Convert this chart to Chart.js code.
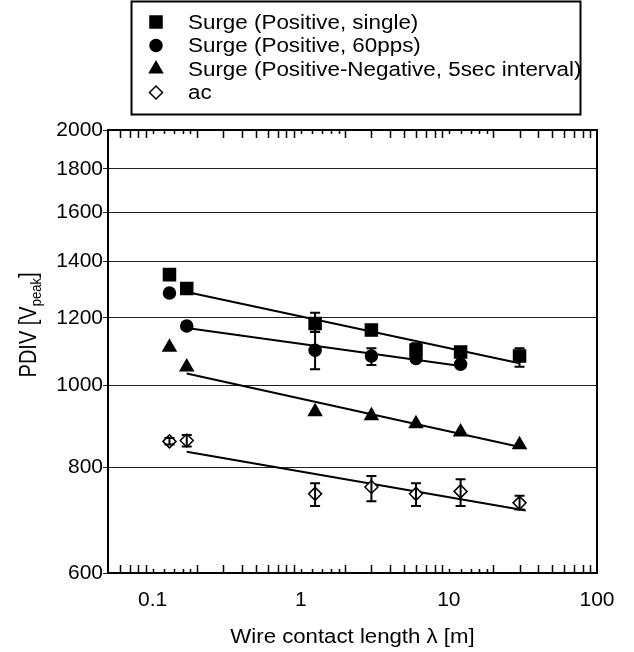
<!DOCTYPE html>
<html>
<head>
<meta charset="utf-8">
<script src="https://cdn.jsdelivr.net/npm/chart.js@4.4.0/dist/chart.umd.min.js"></script>
<style>
html, body { margin: 0; padding: 0; background: #fff; }
#wrap { width: 634px; height: 652px; }
</style>
</head>
<body>
<div id="wrap"><canvas id="pdivChart" width="634" height="652"></canvas></div>
<script>
// wire contact length [m]
const lengths = [0.13, 0.17, 1.25, 3, 6, 12, 30];

const seriesNames = ['Surge (Positive, single)', 'Surge (Positive, 60pps)', 'Surge (Positive-Negative, 5sec interval)', 'ac'];

const surgeSingle = [1350, 1300, 1182, 1161, 1100, 1094, 1082];
const surgeSingleErr = [null, [1288, 1314], [1155, 1217], null, [1082, 1120], null, [1051, 1105]];

const surge60pps = [1284, 1174, 1099, 1082, 1075, 1058, null];
const surge60ppsErr = [[1273, 1296], [1163, 1186], [1044, 1156], [1056, 1105], null, null, null];

const surgePosNeg = [1108, 1050, 930, 920, 900, 880, 850];

const acValues = [858, 860, 744, 758, 744, 749, 726];
const acErr = [[851, 866], [846, 873], [720, 766], [729, 781], [720, 766], [720, 774], [713, 740]];

// fitted lines (start, end)
const singleFitX = [0.17, 30];
const singleFit = [1288, 1061];
const ppsFitX = [0.17, 12];
const ppsFit = [1168, 1053];
const posNegFitX = [0.17, 33];
const posNegFit = [1032, 842];
const acFitX = [0.17, 33];
const acFit = [834, 711];

const xTicks = [0.1, 1, 10, 100];
const yTicks = [600, 800, 1000, 1200, 1400, 1600, 1800, 2000];

const FONT = '"Liberation Sans", Arial, sans-serif';

function pts(xs, ys) {
    return xs.map((x, i) => ({ x: x, y: ys[i] })).filter(p => p.y != null);
}

function markerSet(label, ys, style, radius, fill, errors) {
    return {
        label: label,
        data: pts(lengths, ys),
        pointStyle: style,
        pointRadius: radius,
        pointHoverRadius: radius,
        backgroundColor: fill,
        borderColor: '#000',
        pointBorderWidth: 1.5,
        showLine: false,
        inLegend: true,
        errors: errors
    };
}

function fitLine(xs, ys) {
    return {
        data: pts(xs, ys),
        showLine: true,
        pointRadius: 0,
        borderColor: '#000',
        borderWidth: 2,
        fill: false
    };
}

const errorBars = {
    id: 'errorBars',
    afterDatasetsDraw(chart) {
        const { ctx, scales: { x, y } } = chart;
        ctx.save();
        ctx.strokeStyle = '#000';
        ctx.lineWidth = 2;
        chart.data.datasets.forEach(ds => {
            if (!ds.errors) return;
            ds.errors.forEach((e, i) => {
                if (!e) return;
                const px = x.getPixelForValue(lengths[i]);
                const y1 = y.getPixelForValue(e[0]);
                const y2 = y.getPixelForValue(e[1]);
                ctx.beginPath();
                ctx.moveTo(px, y1); ctx.lineTo(px, y2);
                ctx.moveTo(px - 5, y1); ctx.lineTo(px + 5, y1);
                ctx.moveTo(px - 5, y2); ctx.lineTo(px + 5, y2);
                ctx.stroke();
            });
        });
        ctx.restore();
    }
};

// plot frame, log minor ticks, axis titles and the boxed legend
const decorations = {
    id: 'decorations',
    afterDraw(chart) {
        const { ctx, chartArea: a, scales: { x } } = chart;
        ctx.save();
        ctx.strokeStyle = '#000';
        ctx.lineWidth = 2;
        ctx.strokeRect(a.left, a.top, a.right - a.left, a.bottom - a.top);

        ctx.lineWidth = 1.5;
        ctx.beginPath();
        [0.01, 0.1, 1, 10].forEach(d => {
            [1, 1.2, 1.4, 1.6, 1.8, 2, 3, 4, 5, 6, 7, 8, 9].forEach(m => {
                const v = d * m;
                if (v <= x.min * 1.001 || v >= x.max * 0.999) return;
                const len = m < 2 ? 4 : 8;
                const px = Math.round(x.getPixelForValue(v)) + 0.5;
                ctx.moveTo(px, a.bottom); ctx.lineTo(px, a.bottom - len);
                ctx.moveTo(px, a.top); ctx.lineTo(px, a.top + len);
            });
        });
        ctx.stroke();

        ctx.fillStyle = '#000';
        ctx.textBaseline = 'middle';

        // x title
        ctx.save();
        ctx.translate((a.left + a.right) / 2, 637);
        ctx.scale(1.11, 1);
        ctx.font = '20px ' + FONT;
        ctx.textAlign = 'center';
        ctx.fillText('Wire contact length λ [m]', 0, 0);
        ctx.restore();

        // y title with subscript
        ctx.save();
        ctx.translate(28, 325);
        ctx.rotate(-Math.PI / 2);
        ctx.scale(1, 1.15);
        ctx.textAlign = 'left';
        ctx.textBaseline = 'alphabetic';
        const big = '20px ' + FONT, small = '13px ' + FONT;
        ctx.font = big;
        const w1 = ctx.measureText('PDIV [V').width;
        const w3 = ctx.measureText(']').width;
        ctx.font = small;
        const w2 = ctx.measureText('peak').width;
        let cx = -(w1 + w2 + w3) / 2;
        ctx.font = big;
        ctx.fillText('PDIV [V', cx, 7);
        cx += w1;
        ctx.font = small;
        ctx.fillText('peak', cx, 11);
        cx += w2;
        ctx.font = big;
        ctx.fillText(']', cx, 7);
        ctx.restore();

        // legend
        ctx.lineWidth = 2;
        ctx.strokeRect(131.5, 1.5, 449, 113);
        chart.data.datasets.filter(ds => ds.inLegend).forEach((ds, i) => {
            const cy = 22 + i * 23.5;
            ctx.fillStyle = ds.backgroundColor;
            ctx.strokeStyle = '#000';
            ctx.lineWidth = 1.5;
            Chart.helpers.drawPoint(ctx, {
                pointStyle: ds.pointStyle,
                radius: ds.pointRadius,
                rotation: 0,
                borderWidth: 1.5
            }, 156, cy);
            ctx.save();
            ctx.fillStyle = '#000';
            ctx.translate(188, cy);
            ctx.scale(1.12, 1);
            ctx.font = '20px ' + FONT;
            ctx.textAlign = 'left';
            ctx.textBaseline = 'middle';
            ctx.fillText(ds.label, 0, 1);
            ctx.restore();
        });
        ctx.restore();
    }
};

const canvas = document.getElementById('pdivChart');

const pdivChart = new Chart(canvas, {
    type: 'scatter',
    data: {
        datasets: [
            markerSet(seriesNames[0], surgeSingle, 'rect', 8.5, '#000', surgeSingleErr),
            markerSet(seriesNames[1], surge60pps, 'circle', 6, '#000', surge60ppsErr),
            markerSet(seriesNames[2], surgePosNeg, 'triangle', 7.5, '#000', null),
            markerSet(seriesNames[3], acValues, 'rectRot', 6.5, '#fff', acErr),
            fitLine(singleFitX, singleFit),
            fitLine(ppsFitX, ppsFit),
            fitLine(posNegFitX, posNegFit),
            fitLine(acFitX, acFit)
        ]
    },
    options: {
        responsive: false,
        animation: false,
        layout: { padding: { top: 130, right: 37, left: 0, bottom: 0 } },
        plugins: {
            legend: { display: false },
            tooltip: { enabled: false }
        },
        scales: {
            x: {
                type: 'logarithmic',
                min: 0.05,
                max: 100,
                afterBuildTicks: s => { s.ticks = xTicks.map(v => ({ value: v })); },
                afterFit: s => { s.height = 79; },
                grid: { display: false, drawTicks: false },
                border: { display: false },
                ticks: {
                    color: '#000',
                    font: { family: FONT, size: 21 },
                    padding: 15,
                    autoSkip: false,
                    maxRotation: 0,
                    callback: v => String(v)
                }
            },
            y: {
                type: 'logarithmic',
                min: 600,
                max: 2000,
                afterBuildTicks: s => { s.ticks = yTicks.map(v => ({ value: v })); },
                afterFit: s => { s.width = 108; },
                grid: { color: '#222', lineWidth: 1, drawTicks: true, tickLength: 5 },
                border: { display: false },
                ticks: {
                    color: '#000',
                    font: { family: FONT, size: 21 },
                    padding: 0,
                    autoSkip: false,
                    callback: v => String(v)
                }
            }
        }
    },
    plugins: [errorBars, decorations]
});
</script>
</body>
</html>
